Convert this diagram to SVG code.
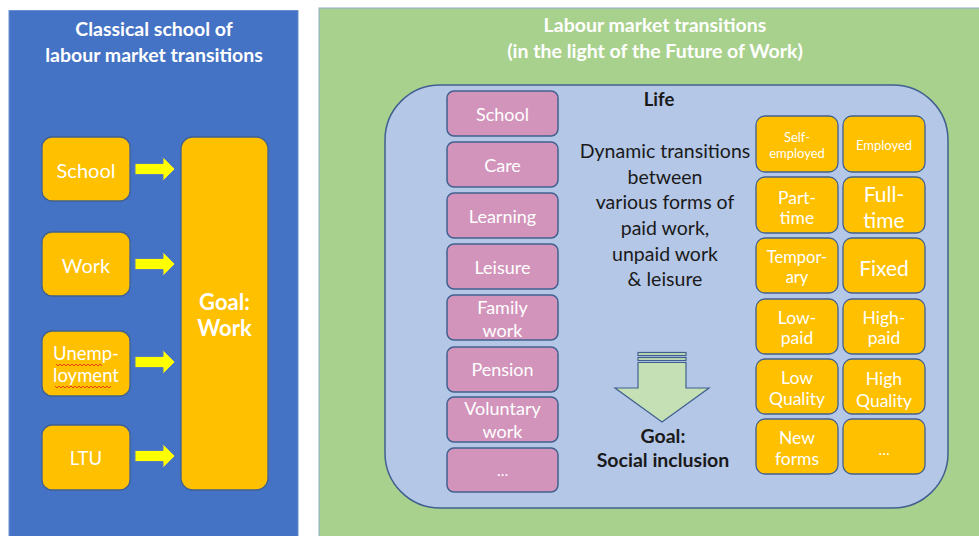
<svg xmlns="http://www.w3.org/2000/svg" width="979" height="536" viewBox="0 0 979 536">
<defs>
<style>
text{font-family:Lato,"Open Sans","Liberation Sans",sans-serif;text-anchor:middle;dominant-baseline:central}
.w{fill:#ffffff}
.k{fill:#1a1a1a}
.b{font-weight:bold}
.org{fill:#FFC000;stroke:#41608F;stroke-width:1.3}
.pink{fill:#D294BB;stroke:#41608F;stroke-width:1.5}
.yarr{fill:#FFFF00;stroke:#5B7DB8;stroke-width:1}
.garr{fill:#C5E0B4;stroke:#41608F;stroke-width:1.2}
.sq{fill:none;stroke:#E02020;stroke-width:0.8}
</style>
</defs>
<rect x="0" y="0" width="979" height="536" fill="#ffffff"/>

<g id="panel-left">
<rect x="9" y="10.5" width="289" height="530" fill="#4472C4" stroke="#6A8FD0" stroke-width="1"/>
<text class="w b" x="154" y="28" font-size="19.5">Classical school of</text>
<text class="w b" x="154" y="54" font-size="19.5">labour market transitions</text>
</g>

<g id="panel-right">
<rect x="319" y="8" width="665" height="535" fill="#A9D18E" stroke="#8EA9C8" stroke-width="1"/>
<text class="w b" x="655" y="24" font-size="19.5">Labour market transitions</text>
<text class="w b" x="655" y="50" font-size="19.5">(in the light of the Future of Work)</text>
</g>

<g id="life">
<path d="M440 85 H893 A55 55 0 0 1 948 140 V453 A55 55 0 0 1 893 508 H440 A55 55 0 0 1 385 453 V140 A55 55 0 0 1 440 85 Z" fill="#B4C7E7" stroke="#41608F" stroke-width="1.5"/>
<text class="k b" x="659" y="99" font-size="18.5">Life</text>
<text class="k" x="665" y="150" font-size="19.5">Dynamic transitions</text>
<text class="k" x="665" y="176" font-size="19.5">between</text>
<text class="k" x="665" y="201" font-size="19.5">various forms of</text>
<text class="k" x="665" y="227" font-size="19.5">paid work,</text>
<text class="k" x="665" y="253" font-size="19.5">unpaid work</text>
<text class="k" x="665" y="278" font-size="19.5">&amp; leisure</text>
<text class="k b" x="663" y="435" font-size="19.5">Goal:</text>
<text class="k b" x="663" y="459" font-size="19.5">Social inclusion</text>
</g>

<g id="node-school-l"><rect class="org" x="42" y="137" width="88" height="64" rx="10"/><text class="w" x="86" y="170" font-size="20">School</text></g>
<g id="node-work-l"><rect class="org" x="42" y="232" width="88" height="64" rx="10"/><text class="w" x="86" y="265" font-size="20">Work</text></g>
<g id="node-unemp-l"><rect class="org" x="42" y="331" width="88" height="65" rx="10"/><text class="w" x="86" y="353" font-size="18.5">Unemp-</text><text class="w" x="86" y="375" font-size="18.5">loyment</text>
<path class="sq" d="M56 364 l2 2 l2 -2 l2 2 l2 -2 l2 2 l2 -2 l2 2 l2 -2 l2 2 l2 -2 l2 2 l2 -2 l2 2 l2 -2 l2 2 l2 -2 l2 2 l2 -2 l2 2 l2 -2 l2 2 l2 -2 l2 2"/>
<path class="sq" d="M55 386 l2 2 l2 -2 l2 2 l2 -2 l2 2 l2 -2 l2 2 l2 -2 l2 2 l2 -2 l2 2 l2 -2 l2 2 l2 -2 l2 2 l2 -2 l2 2 l2 -2 l2 2 l2 -2 l2 2 l2 -2 l2 2 l2 -2 l2 2 l2 -2 l2 2 l2 -2"/></g>
<g id="node-ltu-l"><rect class="org" x="42" y="425" width="88" height="65" rx="10"/><text class="w" x="86" y="458" font-size="18.5">LTU</text></g>
<g id="node-goal-work"><rect class="org" x="181" y="137" width="87" height="353" rx="12"/><text class="w b" x="224.5" y="301" font-size="22">Goal:</text><text class="w b" x="224.5" y="327" font-size="22">Work</text></g>

<g id="connectors">
<path class="yarr" d="M135 163.5 h28 v-6.5 l12 12 l-12 12 v-6.5 h-28 z"/>
<path class="yarr" d="M135 258.5 h28 v-6.5 l12 12 l-12 12 v-6.5 h-28 z"/>
<path class="yarr" d="M135 356.5 h28 v-6.5 l12 12 l-12 12 v-6.5 h-28 z"/>
<path class="yarr" d="M135 450.5 h28 v-6.5 l12 12 l-12 12 v-6.5 h-28 z"/>
<rect class="garr" x="638" y="352.5" width="48" height="3"/>
<rect class="garr" x="638" y="357.5" width="48" height="3"/>
<path class="garr" d="M638 362.5 h48 v25.5 h23 l-47 34 l-47 -34 h23 z"/>
</g>

<g id="node-school"><rect class="pink" x="447" y="91" width="111" height="45" rx="7"/><text class="w" x="502.5" y="114" font-size="18">School</text></g>
<g id="node-care"><rect class="pink" x="447" y="142" width="111" height="45" rx="7"/><text class="w" x="502.5" y="165" font-size="18">Care</text></g>
<g id="node-learning"><rect class="pink" x="447" y="193" width="111" height="45" rx="7"/><text class="w" x="502.5" y="216" font-size="18">Learning</text></g>
<g id="node-leisure"><rect class="pink" x="447" y="244" width="111" height="45" rx="7"/><text class="w" x="502.5" y="267" font-size="18">Leisure</text></g>
<g id="node-family"><rect class="pink" x="447" y="295" width="111" height="45" rx="7"/><text class="w" x="502.5" y="307" font-size="18">Family</text><text class="w" x="502.5" y="330" font-size="18">work</text></g>
<g id="node-pension"><rect class="pink" x="447" y="347" width="111" height="45" rx="7"/><text class="w" x="502.5" y="369" font-size="18">Pension</text></g>
<g id="node-voluntary"><rect class="pink" x="447" y="397" width="111" height="45" rx="7"/><text class="w" x="502.5" y="408" font-size="18">Voluntary</text><text class="w" x="502.5" y="431" font-size="18">work</text></g>
<g id="node-more-pink"><rect class="pink" x="447" y="448" width="111" height="44" rx="7"/><text class="w" x="502.5" y="470" font-size="15">…</text></g>

<g id="node-self"><rect class="org" x="756" y="116" width="82" height="56" rx="9"/><text class="w" x="797" y="137" font-size="13">Self-</text><text class="w" x="797" y="153" font-size="13">employed</text></g>
<g id="node-employed"><rect class="org" x="843" y="116" width="82" height="56" rx="9"/><text class="w" x="884" y="145" font-size="13">Employed</text></g>
<g id="node-part"><rect class="org" x="756" y="177" width="82" height="56" rx="9"/><text class="w" x="797" y="197" font-size="17.5">Part-</text><text class="w" x="797" y="217" font-size="17.5">time</text></g>
<g id="node-full"><rect class="org" x="843" y="177" width="82" height="56" rx="9"/><text class="w" x="884" y="193" font-size="21">Full-</text><text class="w" x="884" y="219" font-size="21">time</text></g>
<g id="node-temp"><rect class="org" x="756" y="238" width="82" height="55" rx="9"/><text class="w" x="797" y="257" font-size="16.5">Tempor-</text><text class="w" x="797" y="277" font-size="16.5">ary</text></g>
<g id="node-fixed"><rect class="org" x="843" y="238" width="82" height="55" rx="9"/><text class="w" x="884" y="267" font-size="21">Fixed</text></g>
<g id="node-lowpaid"><rect class="org" x="756" y="299" width="82" height="55" rx="9"/><text class="w" x="797" y="317" font-size="17.5">Low-</text><text class="w" x="797" y="337" font-size="17.5">paid</text></g>
<g id="node-highpaid"><rect class="org" x="843" y="299" width="82" height="55" rx="9"/><text class="w" x="884" y="317" font-size="17.5">High-</text><text class="w" x="884" y="337" font-size="17.5">paid</text></g>
<g id="node-lowq"><rect class="org" x="756" y="359" width="82" height="55" rx="9"/><text class="w" x="797" y="377" font-size="17.5">Low</text><text class="w" x="797" y="398" font-size="17.5">Quality</text></g>
<g id="node-highq"><rect class="org" x="843" y="359" width="82" height="55" rx="9"/><text class="w" x="884" y="378" font-size="17.5">High</text><text class="w" x="884" y="400" font-size="17.5">Quality</text></g>
<g id="node-new"><rect class="org" x="756" y="419" width="82" height="55" rx="9"/><text class="w" x="797" y="437" font-size="17.5">New</text><text class="w" x="797" y="458" font-size="17.5">forms</text></g>
<g id="node-more-org"><rect class="org" x="843" y="419" width="82" height="55" rx="9"/><text class="w" x="884" y="449" font-size="15">…</text></g>
</svg>
